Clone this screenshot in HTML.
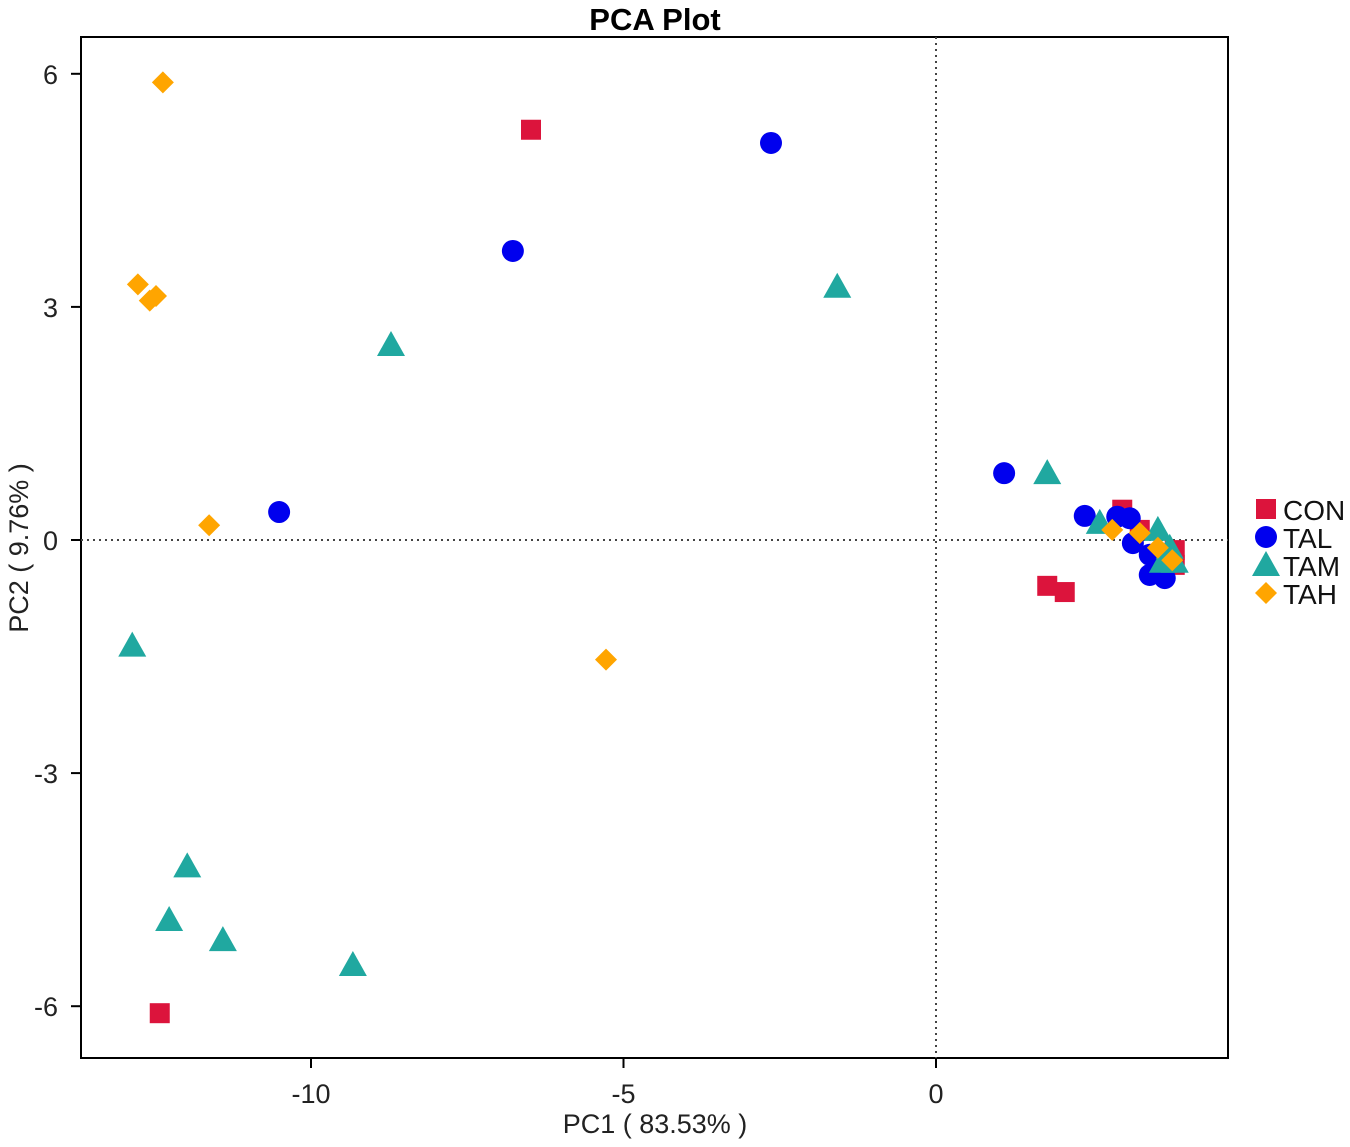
<!DOCTYPE html>
<html><head><meta charset="utf-8"><style>
body{margin:0;background:#fff;}
svg text{font-family:"Liberation Sans",Arial,sans-serif;}
</style></head><body>
<svg id="chart" width="1350" height="1142" viewBox="0 0 1350 1142">
<text x="655" y="30" text-anchor="middle" font-size="31" font-weight="bold">PCA Plot</text>
<rect x="81" y="37" width="1147" height="1021" fill="none" stroke="#000" stroke-width="2"/>
<g id="axes"></g>
<g id="marks"></g>
<text x="655" y="1133" text-anchor="middle" font-size="27" fill="#222">PC1 ( 83.53% )</text>
<text transform="translate(28,548) rotate(-90)" text-anchor="middle" font-size="27" fill="#222">PC2 ( 9.76% )</text>
<g id="legend"></g>
</svg>
<script>
const xTicks=[-10,-5,0];
const yTicks=[6,3,0,-3,-6];
const groups=["CON","TAL","TAM","TAH"];
const colors=["#dc143c","#0000ee","#20a8a0","#ffa500"];
const conX=[-6.48,-12.42,1.78,2.06,2.98,3.26,3.82,3.82];
const conY=[5.28,-6.09,-0.59,-0.67,0.39,0.13,-0.13,-0.32];
const talX=[-2.64,-6.77,-10.51,1.09,2.38,2.9,3.1,3.15,3.42,3.42,3.66,3.58];
const talY=[5.11,3.72,0.36,0.86,0.31,0.3,0.28,-0.04,-0.19,-0.45,-0.49,-0.26];
const tamX=[-1.58,-8.72,-12.86,-11.98,-12.27,-11.41,-9.33,1.78,2.62,3.55,3.74,3.63,3.82];
const tamY=[3.26,2.51,-1.36,-4.2,-4.89,-5.15,-5.47,0.86,0.22,0.13,-0.1,-0.28,-0.28];
const tahX=[-12.37,-12.77,-12.48,-12.58,-11.63,-5.28,2.82,3.26,3.55,3.78];
const tahY=[5.89,3.29,3.14,3.08,0.19,-1.54,0.13,0.09,-0.1,-0.26];
const NS="http://www.w3.org/2000/svg";
const sx=v=>936+v*62.5, sy=v=>540-v*77.7;
function mk(t,a,p){const e=document.createElementNS(NS,t);for(const k in a)e.setAttribute(k,a[k]);p.appendChild(e);return e;}
const axes=document.getElementById('axes');
xTicks.forEach(t=>{const x=sx(t);
 const l=mk('line',{x1:x,x2:x,y1:1058,y2:1068,stroke:'#000','stroke-width':2},axes);
 
 
 const tx=mk('text',{x:x,y:1103,'text-anchor':'middle','font-size':27,fill:'#222'},axes);tx.textContent=t;
 
 });
yTicks.forEach(t=>{const y=sy(t);
 const l=mk('line',{x1:71,x2:81,y1:y,y2:y,stroke:'#000','stroke-width':2},axes);
 
 
 const tx=mk('text',{x:58,y:y+10,'text-anchor':'end','font-size':27,fill:'#222'},axes);tx.textContent=t;
 
 });
const vz=mk('line',{x1:sx(0),x2:sx(0),y1:37,y2:1058,stroke:'#444','stroke-width':2,'stroke-dasharray':'2,4'},axes);


const hz=mk('line',{x1:81,x2:1228,y1:sy(0),y2:sy(0),stroke:'#444','stroke-width':2,'stroke-dasharray':'2,4'},axes);


function shape(i,x,y,p){const c=colors[i];let e;
 if(i===0)e=mk('rect',{x:x-10,y:y-10,width:20,height:20,fill:c},p);
 else if(i===1)e=mk('circle',{cx:x,cy:y,r:11,fill:c},p);
 else if(i===2)e=mk('polygon',{points:`${x},${y-14} ${x+14},${y+11} ${x-14},${y+11}`,fill:c},p);
 else e=mk('polygon',{points:`${x},${y-11} ${x+11},${y} ${x},${y+11} ${x-11},${y}`,fill:c},p);
 return e;}
const marks=document.getElementById('marks');
[[conX,conY],[talX,talY],[tamX,tamY],[tahX,tahY]].forEach((d,i)=>{
 d[0].forEach((v,j)=>{const e=shape(i,sx(v),sy(d[1][j]),marks);
  
  });});
const lg=document.getElementById('legend');
groups.forEach((g,i)=>{const y=509+i*28;
 const e=shape(i,1266,y,lg);
 
 
 const t=mk('text',{x:1283,y:y+11,'font-size':28,fill:'#111'},lg);t.textContent=g;
 
 });
</script>
</body></html>
